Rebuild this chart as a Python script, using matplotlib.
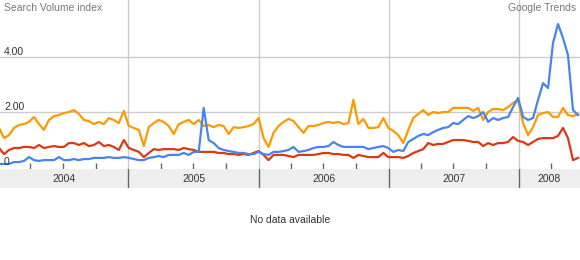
import matplotlib
matplotlib.use('Agg')
import matplotlib.pyplot as plt
import matplotlib.dates as mdates
import matplotlib.transforms as mtransforms
import pandas as pd

plt.rcParams['font.family'] = ['Liberation Sans', 'DejaVu Sans']

# fortnightly samples, Jan 2004 - Jun 2008
dates = pd.date_range('2004-01-04', periods=117, freq='14D')

orange = [1.42, 1.05, 1.16, 1.42, 1.53, 1.56, 1.64, 1.82, 1.56, 1.35,
          1.71, 1.85, 1.89, 1.96, 2.00, 2.07, 1.93, 1.71, 1.67, 1.56,
          1.64, 1.56, 1.78, 1.71, 1.60, 2.04, 1.49, 1.42, 1.35, 0.76,
          1.45, 1.60, 1.71, 1.64, 1.49, 1.20, 1.56, 1.64, 1.71, 1.56,
          1.71, 1.49, 1.53, 1.45, 1.53, 1.49, 1.20, 1.45, 1.42, 1.45,
          1.49, 1.56, 1.78, 1.05, 0.73, 1.24, 1.49, 1.64, 1.75, 1.67,
          1.45, 1.24, 1.49, 1.49, 1.53, 1.60, 1.64, 1.60, 1.64, 1.56,
          1.60, 2.44, 1.56, 1.75, 1.42, 1.42, 1.45, 1.78, 1.42, 1.31,
          1.16, 0.87, 1.35, 1.78, 1.93, 2.07, 1.89, 2.00, 1.96, 2.00,
          2.00, 2.15, 2.15, 2.15, 2.15, 2.04, 2.15, 1.71, 2.00, 2.11,
          2.11, 2.07, 2.18, 2.33, 2.44, 1.60, 1.16, 1.45, 1.89, 1.96,
          2.00, 1.82, 1.82, 2.15, 1.89, 1.85, 1.93]

red = [0.69, 0.47, 0.62, 0.69, 0.69, 0.73, 0.73, 0.69, 0.80, 0.69,
       0.73, 0.76, 0.73, 0.73, 0.87, 0.87, 0.80, 0.87, 0.76, 0.80,
       0.91, 0.76, 0.80, 0.73, 0.62, 0.98, 0.69, 0.62, 0.55, 0.36,
       0.51, 0.65, 0.62, 0.65, 0.65, 0.65, 0.62, 0.69, 0.65, 0.62,
       0.55, 0.55, 0.55, 0.55, 0.51, 0.51, 0.47, 0.47, 0.44, 0.47,
       0.44, 0.51, 0.58, 0.44, 0.25, 0.44, 0.44, 0.44, 0.40, 0.36,
       0.44, 0.44, 0.44, 0.44, 0.47, 0.51, 0.51, 0.47, 0.47, 0.44,
       0.44, 0.33, 0.44, 0.40, 0.36, 0.36, 0.36, 0.51, 0.36, 0.36,
       0.36, 0.33, 0.40, 0.51, 0.58, 0.65, 0.87, 0.80, 0.84, 0.84,
       0.91, 0.98, 0.98, 0.98, 0.95, 0.91, 0.91, 0.76, 0.87, 0.80,
       0.87, 0.87, 0.91, 1.09, 0.95, 0.91, 0.80, 0.91, 1.02, 1.05,
       1.05, 1.05, 1.13, 1.42, 1.05, 0.25, 0.33]

blue = [0.11, 0.11, 0.11, 0.18, 0.18, 0.22, 0.36, 0.25, 0.22, 0.25,
        0.25, 0.25, 0.36, 0.25, 0.25, 0.29, 0.25, 0.29, 0.29, 0.33,
        0.33, 0.33, 0.36, 0.33, 0.33, 0.36, 0.33, 0.29, 0.25, 0.25,
        0.33, 0.36, 0.40, 0.36, 0.44, 0.44, 0.44, 0.51, 0.44, 0.55,
        0.55, 2.15, 0.98, 0.87, 0.69, 0.62, 0.58, 0.55, 0.51, 0.51,
        0.47, 0.47, 0.55, 0.47, 0.44, 0.55, 0.55, 0.58, 0.62, 0.73,
        0.55, 0.58, 0.62, 0.69, 0.73, 0.73, 0.76, 0.91, 0.80, 0.73,
        0.73, 0.73, 0.73, 0.73, 0.65, 0.69, 0.73, 0.76, 0.69, 0.55,
        0.62, 0.58, 0.91, 1.02, 1.13, 1.20, 1.16, 1.27, 1.35, 1.42,
        1.45, 1.60, 1.56, 1.71, 1.85, 1.78, 1.85, 2.00, 1.64, 1.78,
        1.71, 1.78, 1.82, 2.18, 2.51, 1.82, 1.71, 1.78, 2.44, 3.05,
        2.87, 4.51, 5.20, 4.69, 4.07, 2.07, 1.89]

ytick_vals = [0, 2, 4]
ytick_labels = ['0', '2.00', '4.00']
years = [2004, 2005, 2006, 2007, 2008]

fig = plt.figure(figsize=(5.8, 2.6), dpi=100)
ax = fig.add_axes([0, 91 / 260, 1, 169 / 260])
band = fig.add_axes([0, 72 / 260, 1, 19 / 260])

x0 = mdates.date2num(pd.Timestamp('2004-01-01')) + 5.6
x1 = x0 + 580 * 365.25 / 130.2

grid_c = '#cccccc'
for v in ytick_vals[1:]:
    ax.axhline(v, color=grid_c, lw=1, zorder=1)
for y in years[1:]:
    ax.axvline(mdates.date2num(pd.Timestamp(f'{y}-01-01')), color=grid_c, lw=1, zorder=1)

ax.plot(dates, orange, color='#ff9900', lw=1.6, zorder=3, solid_joinstyle='round')
ax.plot(dates, red, color='#dc3912', lw=1.6, zorder=3, solid_joinstyle='round')
ax.plot(dates, blue, color='#4684ee', lw=1.6, zorder=4, solid_joinstyle='round')

ax.set_xlim(x0, x1)
ax.set_ylim(-2 / 27.5, 167 / 27.5)
for s in ax.spines.values():
    s.set_visible(False)
ax.set_yticks([])
ax.xaxis.set_major_locator(mdates.YearLocator())
ax.xaxis.set_minor_locator(mdates.MonthLocator(bymonth=[4, 7, 10]))
ax.tick_params(axis='x', which='major', length=0, labelbottom=False)
ax.tick_params(axis='x', which='minor', direction='in', length=4.5, width=1, color='#666666')

trans = mtransforms.blended_transform_factory(ax.transAxes, ax.transData)
for v, lab in zip(ytick_vals, ytick_labels):
    ax.text(0.007, v + 0.17, lab, transform=trans, ha='left', va='center',
            fontsize=7.5, color='#333333', zorder=5)

ax.text(0.007, 0.985, 'Search Volume index', transform=ax.transAxes, ha='left', va='top',
        fontsize=7.5, color='#777777')
ax.text(0.993, 0.985, 'Google Trends', transform=ax.transAxes, ha='right', va='top',
        fontsize=7.5, color='#777777')

# year band
band.set_facecolor('#eeeeee')
band.set_xlim(x0, x1)
band.set_ylim(0, 1)
band.set_xticks([])
band.set_yticks([])
for s in band.spines.values():
    s.set_visible(False)
for y in years:
    a = mdates.date2num(pd.Timestamp(f'{y}-01-01'))
    b = mdates.date2num(pd.Timestamp(f'{y + 1}-01-01'))
    if y > years[0]:
        band.axvline(a, color='#666666', lw=1)
    mid = (max(a, x0) + min(b, x1)) / 2
    band.text(mid, 0.45, str(y), ha='center', va='center', fontsize=7.5, color='#333333')

fig.text(0.5, 1 - 220 / 260, 'No data available', ha='center', va='center',
         fontsize=7.5, color='#333333')

fig.savefig('out.png', dpi=100)
